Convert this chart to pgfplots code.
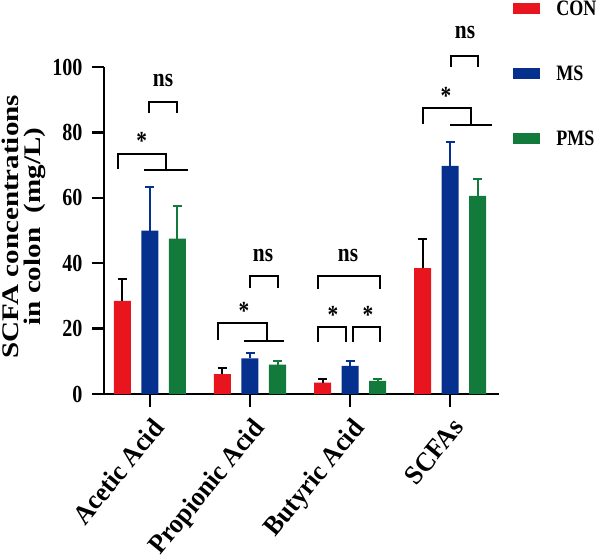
\documentclass[border=0pt]{standalone}
\usepackage{fontspec}
\setmainfont{Liberation Serif}
\newfontfamily\condfont[FakeStretch=0.82]{Liberation Serif}
\newfontfamily\widefont[FakeStretch=1.22]{Liberation Serif}
\newfontfamily\xlabfont[FakeStretch=0.955]{Liberation Serif}
\usepackage{pgfplots}
\usepackage{pgfplotstable}
\pgfplotsset{compat=1.18}
\definecolor{conred}{RGB}{232,20,30}
\definecolor{msblue}{RGB}{6,48,142}
\definecolor{pmsgreen}{RGB}{18,122,58}
\pgfplotsset{mylegend/.style={legend image code/.code={\fill[##1,draw=none] (0pt,-5.5pt) rectangle (27pt,5.5pt);}}}
\pgfplotstableread{
x y e
0 28.5 6.7
1 6.1 1.9
2 3.5 1.0
3 38.5 8.9
}\con
\pgfplotstableread{
x y e
0 50.0 13.4
1 10.9 1.5
2 8.6 1.5
3 69.8 7.3
}\ms
\pgfplotstableread{
x y e
0 47.5 10.0
1 9.0 1.1
2 4.0 0.6
3 60.6 5.2
}\pms
\begin{document}
\begin{tikzpicture}[x=1pt,y=1pt]
\path[use as bounding box] (-104,-163) rectangle (496,394);
\begin{axis}[at={(0,0)}, anchor=south west, scale only axis,
  width=395pt, height=327pt,
  xmin=-0.46, xmax=3.49, ymin=0, ymax=100,
  axis lines=left,
  axis line style={-, line width=2.4pt, black},
  clip=false,
  tick align=outside,
  xtick={0,1,2,3},
  xticklabels={Acetic Acid, Propionic Acid, Butyric Acid, SCFAs},
  ytick={0,20,40,60,80,100},
  xtick style={/pgfplots/major tick length=13pt, line width=2.4pt, black},
  ytick style={/pgfplots/major tick length=12pt, line width=2.4pt, black},
  /pgf/number format/assume math mode=true,
  yticklabel style={font=\condfont\fontsize{24.5}{26}\selectfont\bfseries, inner sep=1pt, xshift=-16pt},
  xticklabel style={xshift=1pt, yshift=-18pt, rotate=50.6, anchor=north east, font=\xlabfont\fontsize{27}{30}\selectfont\bfseries, inner sep=0pt},
  ylabel={SCFA concentrations\\in colon\ \ (mg/L)},
  ylabel style={align=center, font=\widefont\fontsize{23.8}{22}\selectfont\bfseries, inner sep=0pt, at={(axis description cs:-0.146,0.512)}, anchor=south},
  legend style={at={(axis description cs:1.036,1.21)}, anchor=north west, draw=none, fill=none, inner sep=0pt,
    font=\condfont\fontsize{22}{22}\selectfont\bfseries, row sep=45pt,
    /tikz/every odd column/.append style={column sep=14pt}},
  legend cell align=left,
]
\addplot[ybar, bar width=17pt, bar shift=0pt, fill=conred, draw=none, mylegend,
  error bars/.cd, y dir=plus, y explicit, error mark=|,
  error bar style={black, line width=2pt},
  error mark options={black, line width=2pt, mark size=4.5pt}]
  table[x expr=\thisrow{x}-0.275, y=y, y error=e]{\con};
\addlegendentry{CON}
\addplot[ybar, bar width=17pt, bar shift=0pt, fill=msblue, draw=none, mylegend,
  error bars/.cd, y dir=plus, y explicit, error mark=|,
  error bar style={msblue, line width=2pt},
  error mark options={msblue, line width=2pt, mark size=4.5pt}]
  table[x=x, y=y, y error=e]{\ms};
\addlegendentry{MS}
\addplot[ybar, bar width=17pt, bar shift=0pt, fill=pmsgreen, draw=none, mylegend,
  error bars/.cd, y dir=plus, y explicit, error mark=|,
  error bar style={pmsgreen, line width=2pt},
  error mark options={pmsgreen, line width=2pt, mark size=4.5pt}]
  table[x expr=\thisrow{x}+0.275, y=y, y error=e]{\pms};
\addlegendentry{PMS}
% significance brackets
\begin{scope}[line width=2pt, black]
\draw (axis cs:-0.32,68.8) -- (axis cs:-0.32,73.4) -- (axis cs:0.16,73.4) -- (axis cs:0.16,68.5);
\draw (axis cs:-0.06,68.5) -- (axis cs:0.38,68.5);
\draw (axis cs:-0.01,85.9) -- (axis cs:-0.01,89.3) -- (axis cs:0.27,89.3) -- (axis cs:0.27,85.9);
\draw (axis cs:0.68,16.5) -- (axis cs:0.68,21.7) -- (axis cs:1.17,21.7) -- (axis cs:1.17,16.3);
\draw (axis cs:0.94,16.3) -- (axis cs:1.34,16.3);
\draw (axis cs:1.00,32.4) -- (axis cs:1.00,36.1) -- (axis cs:1.28,36.1) -- (axis cs:1.28,32.4);
\draw (axis cs:1.68,32.1) -- (axis cs:1.68,36.1) -- (axis cs:2.30,36.1) -- (axis cs:2.30,32.1);
\draw (axis cs:1.68,16.0) -- (axis cs:1.68,20.6) -- (axis cs:1.957,20.6) -- (axis cs:1.957,16.0);
\draw (axis cs:2.03,16.0) -- (axis cs:2.03,20.6) -- (axis cs:2.30,20.6) -- (axis cs:2.30,16.0);
\draw (axis cs:2.73,82.6) -- (axis cs:2.73,87.5) -- (axis cs:3.21,87.5) -- (axis cs:3.21,82.3);
\draw (axis cs:3.00,82.3) -- (axis cs:3.42,82.3);
\draw (axis cs:3.01,100) -- (axis cs:3.01,103.4) -- (axis cs:3.28,103.4) -- (axis cs:3.28,100);
\end{scope}
\begin{scope}[every node/.style={font=\condfont\fontsize{26}{26}\selectfont\bfseries, inner sep=0pt}]
\node at (axis cs:-0.083,77.4) {*};
\node at (axis cs:0.94,25.4) {*};
\node at (axis cs:1.83,24.2) {*};
\node at (axis cs:2.18,24.2) {*};
\node at (axis cs:2.96,91.1) {*};
\node at (axis cs:0.13,95.8) {ns};
\node at (axis cs:1.13,42.5) {ns};
\node at (axis cs:1.98,42.5) {ns};
\node at (axis cs:3.15,110.4) {ns};
\end{scope}
\end{axis}
\end{tikzpicture}
\end{document}
